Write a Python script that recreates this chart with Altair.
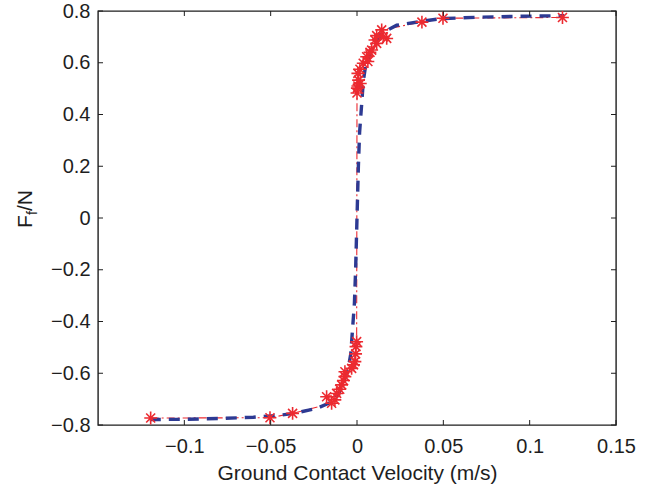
import altair as alt
import pandas as pd

# ---- measured friction data (red asterisks), ordered along the curve ----
meas_v = [-0.1195, -0.0504, -0.0373, -0.0147, -0.0128, -0.0176, -0.0118, -0.0100,
          -0.0089, -0.0078, -0.0070, -0.0070, -0.0031, -0.0020, -0.0012, -0.0008,
          -0.0006, -0.0002,
          0.0000, 0.0002, 0.0005, 0.0019, 0.0009, 0.0005, 0.0017, 0.0036, 0.0063,
          0.0056, 0.0075, 0.0085, 0.0114, 0.0104, 0.0172, 0.0114, 0.0152, 0.0143,
          0.0376, 0.0498, 0.1190]
meas_f = [-0.773, -0.772, -0.755, -0.716, -0.703, -0.691, -0.678, -0.662,
          -0.645, -0.628, -0.613, -0.594, -0.581, -0.567, -0.555, -0.525,
          -0.497, -0.478,
          0.483, 0.502, 0.510, 0.520, 0.533, 0.559, 0.575, 0.598, 0.605,
          0.623, 0.640, 0.649, 0.675, 0.688, 0.694, 0.705, 0.700, 0.727,
          0.757, 0.772, 0.775]

# ---- model curve (blue dashed) ----
model_v = [-0.120, -0.100, -0.080, -0.060, -0.0446, -0.0365, -0.0234, -0.015, -0.011,
           -0.0085, -0.0060, -0.0045, -0.0036, -0.0027, -0.0015, -0.0008, 0.0,
           0.0008, 0.0015, 0.0027, 0.0036, 0.0050, 0.0085, 0.011, 0.015, 0.023,
           0.0365, 0.048, 0.070, 0.090, 0.120]
model_f = [-0.779, -0.778, -0.775, -0.770, -0.762, -0.755, -0.736, -0.712, -0.684,
           -0.650, -0.600, -0.560, -0.525, -0.440, -0.330, -0.200, 0.0,
           0.200, 0.330, 0.440, 0.525, 0.590, 0.649, 0.685, 0.716, 0.745,
           0.759, 0.770, 0.776, 0.779, 0.782]

x_ticks = [-0.1, -0.05, 0, 0.05, 0.1, 0.15]
y_ticks = [-0.8, -0.6, -0.4, -0.2, 0, 0.2, 0.4, 0.6, 0.8]

RED = "#ec2a30"
BLUE = "#2d3a93"
INK = "#1e1e1e"
FONT = "Liberation Sans"
W, H = 518, 414

meas = pd.DataFrame({"v": meas_v, "f": meas_f, "i": list(range(len(meas_v)))})
model = pd.DataFrame({"v": model_v, "f": model_f})
xt = pd.DataFrame({"t": x_ticks})
yt = pd.DataFrame({"t": y_ticks})

xs = alt.Scale(domain=[-0.15, 0.15], nice=False, zero=False)
ys = alt.Scale(domain=[-0.8, 0.8], nice=False, zero=False)

xaxis = alt.Axis(values=x_ticks, format=".2~f", domain=False, ticks=False, grid=False,
                 labelFont=FONT, labelFontSize=20, labelColor=INK, labelPadding=11,
                 labelFlush=False, title="Ground Contact Velocity (m/s)",
                 titleFont=FONT, titleFontSize=21, titleFontWeight="normal",
                 titleColor=INK, titleBaseline="alphabetic", titleY=54)
yaxis = alt.Axis(values=y_ticks, format=".1~f", domain=False, ticks=False, grid=False,
                 labelFont=FONT, labelFontSize=20, labelColor=INK, labelPadding=8,
                 labelFlush=False, title=None)

red_line = alt.Chart(meas).mark_line(color=RED, strokeWidth=1.1, strokeDash=[8, 3, 2, 3]).encode(
    x=alt.X("v:Q", scale=xs, axis=xaxis),
    y=alt.Y("f:Q", scale=ys, axis=yaxis),
    order="i:Q",
)

blue_line = alt.Chart(model).mark_line(color=BLUE, strokeWidth=3.4, strokeDash=[11, 8]).encode(
    x=alt.X("v:Q", scale=xs),
    y=alt.Y("f:Q", scale=ys),
)

star = "M-1,0L1,0M0,-1L0,1M-0.7,-0.7L0.7,0.7M-0.7,0.7L0.7,-0.7"
stars = alt.Chart(meas).mark_point(shape=star, size=165, filled=False, color=RED,
                                   strokeWidth=1.6, opacity=1).encode(
    x=alt.X("v:Q", scale=xs),
    y=alt.Y("f:Q", scale=ys),
)

tick_top = alt.Chart(xt).mark_rule(color=INK, strokeWidth=1).encode(
    x=alt.X("t:Q", scale=xs), y=alt.value(0), y2=alt.value(5))
tick_bot = alt.Chart(xt).mark_rule(color=INK, strokeWidth=1).encode(
    x=alt.X("t:Q", scale=xs), y=alt.value(H), y2=alt.value(H - 5))
tick_left = alt.Chart(yt).mark_rule(color=INK, strokeWidth=1).encode(
    y=alt.Y("t:Q", scale=ys), x=alt.value(0), x2=alt.value(5))
tick_right = alt.Chart(yt).mark_rule(color=INK, strokeWidth=1).encode(
    y=alt.Y("t:Q", scale=ys), x=alt.value(W), x2=alt.value(W - 5))

title_df = pd.DataFrame({"a": [0]})
t_F = alt.Chart(title_df).mark_text(text="F", font=FONT, fontSize=21, color=INK, angle=270,
                                    align="left", baseline="alphabetic").encode(
    x=alt.value(-66), y=alt.value(217))
t_f = alt.Chart(title_df).mark_text(text="f", font=FONT, fontSize=14, color=INK, angle=270,
                                    align="left", baseline="alphabetic").encode(
    x=alt.value(-61), y=alt.value(204))
t_N = alt.Chart(title_df).mark_text(text="/N", font=FONT, fontSize=21, color=INK, angle=270,
                                    align="left", baseline="alphabetic").encode(
    x=alt.value(-66), y=alt.value(200))

chart = alt.layer(
    red_line, blue_line, stars, tick_top, tick_bot, tick_left, tick_right, t_F, t_f, t_N
).properties(
    width=W, height=H,
    autosize=alt.AutoSizeParams(type="none"),
    padding={"left": 98, "top": 11, "right": 33, "bottom": 63},
    background="white",
).configure_view(stroke=INK, strokeWidth=1.4)

chart.save("out.html", embed_options={"renderer": "svg", "actions": False})
